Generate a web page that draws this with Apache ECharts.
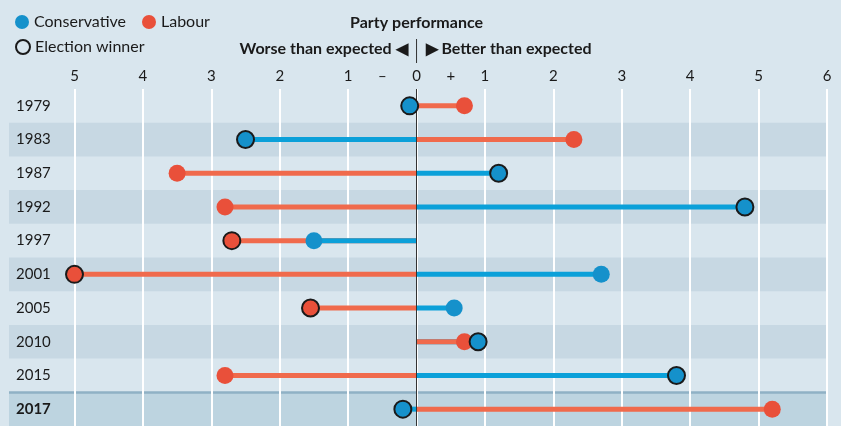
<!DOCTYPE html>
<html lang="en">
<head>
    <meta charset="UTF-8">
    <title>Party performance</title>
    <script type="text/javascript" src="https://cdn.jsdelivr.net/npm/echarts@6/dist/echarts.min.js"></script>
    <style>
      html, body { margin: 0; padding: 0; background: #d9e6ee; }
      #chart { width: 841px; height: 426px; }
    </style>
</head>
<body>
  <div id="chart"></div>

<script type="text/javascript">

  // data
  var years = ['1979', '1983', '1987', '1992', '1997', '2001', '2005', '2010', '2015', '2017'];
  var conservative = [-0.1, -2.5, 1.2, 4.8, -1.5, 2.7, 0.55, 0.9, 3.8, -0.2];
  var labour = [0.7, 2.3, -3.5, -2.8, -2.7, -5.0, -1.55, 0.7, -2.8, 5.2];
  var winner = ['Con', 'Con', 'Con', 'Con', 'Lab', 'Lab', 'Lab', 'Con', 'Con', 'Con'];
  var shadedRows = [1, 3, 5, 7, 9];

  // top axis: tick values and the labels shown at them
  var xTickValues = [-5, -4, -3, -2, -1, -0.5, 0, 0.5, 1, 2, 3, 4, 5, 6];
  var xTickLabels = ['5', '4', '3', '2', '1', '–', '0', '+', '1', '2', '3', '4', '5', '6'];

  var FONT = 'Lato';
  var BLUE_DOT = '#1591cb', BLUE_LINE = '#0ba0d9';
  var RED_DOT = '#e9503a', RED_LINE = '#f06a4c';
  var INK = '#1a1a1a';

  var chart = echarts.init(document.getElementById('chart'));

  // dots, with a black ring on the winner
  function dots(values, party) {
    var out = [];
    for (var i = 0; i < values.length; i++) {
      var w = winner[i] === party;
      out.push({
        value: [values[i], i],
        itemStyle: { borderColor: INK, borderWidth: w ? 2 : 0 }
      });
    }
    return out;
  }

  var lineData = [];
  for (var i = 0; i < years.length; i++) {
    lineData.push([conservative[i], labour[i], i]);
  }

  var bandData = [];
  for (var j = 0; j < shadedRows.length; j++) {
    bandData.push([6, shadedRows[j]]);
  }

  var option = {
    backgroundColor: '#d9e6ee',
    animation: false,
    textStyle: { fontFamily: FONT },
    legend: [{
      left: 10, top: 9,
      itemWidth: 14, itemHeight: 14, itemGap: 16,
      selectedMode: false,
      icon: 'circle',
      data: ['Conservative', 'Labour'],
      textStyle: { fontFamily: FONT, fontSize: 16, color: INK }
    }, {
      left: 10, top: 34,
      itemWidth: 14, itemHeight: 14,
      selectedMode: false,
      icon: 'circle',
      data: ['Election winner'],
      textStyle: { fontFamily: FONT, fontSize: 16, color: INK }
    }],
    grid: { left: 74.5, right: 14, top: 89, height: 338 },
    xAxis: {
      type: 'value',
      position: 'top',
      min: -5, max: 6, interval: 0.5,
      axisLine: { show: false },
      axisTick: { show: false },
      axisLabel: {
        margin: 5,
        fontFamily: FONT, fontSize: 15, color: INK,
        formatter: function (v) {
          var k = xTickValues.indexOf(v);
          return k >= 0 ? xTickLabels[k] : '';
        }
      },
      splitLine: { show: true, lineStyle: { color: ['#ffffff', 'rgba(0,0,0,0)'], width: 2 } }
    },
    yAxis: {
      type: 'category',
      inverse: true,
      data: years,
      axisLine: { show: false },
      axisTick: { show: false },
      splitLine: { show: false },
      axisLabel: {
        align: 'left',
        margin: 58.5,
        fontFamily: FONT, fontSize: 15, color: INK,
        formatter: function (v) {
          return v === '2017' ? '{b|' + v + '}' : v;
        },
        rich: { b: { fontFamily: FONT, fontSize: 15, fontWeight: 'bold', color: INK } }
      }
    },
    series: [{
      // row shading
      type: 'custom',
      z: -1,
      silent: true,
      clip: false,
      encode: { x: 0, y: 1 },
      data: bandData,
      renderItem: function (params, api) {
        var row = api.value(1);
        var c = api.coord([api.value(0), row]);
        var h = api.size([0, 1])[1];
        var x0 = 9;
        var last = row === years.length - 1;
        var kids = [{
          type: 'rect',
          shape: { x: x0, y: c[1] - h / 2, width: c[0] - x0, height: h },
          style: { fill: last ? '#bdd4e0' : '#c7d8e3' }
        }];
        if (last) {
          kids.push({
            type: 'rect',
            shape: { x: x0, y: c[1] - h / 2 - 1, width: c[0] - x0, height: 2.5 },
            style: { fill: '#8fb1c5' }
          });
        }
        return { type: 'group', children: kids };
      }
    }, {
      // stems from zero, longest drawn first
      type: 'custom',
      z: 2,
      silent: true,
      encode: { x: [0, 1], y: 2 },
      data: lineData,
      renderItem: function (params, api) {
        var row = api.value(2);
        var con = api.value(0), lab = api.value(1);
        var p0 = api.coord([0, row]);
        var pc = api.coord([con, row]);
        var pl = api.coord([lab, row]);
        var segC = {
          type: 'line',
          shape: { x1: p0[0], y1: p0[1], x2: pc[0], y2: pc[1] },
          style: { stroke: BLUE_LINE, lineWidth: 5 }
        };
        var segL = {
          type: 'line',
          shape: { x1: p0[0], y1: p0[1], x2: pl[0], y2: pl[1] },
          style: { stroke: RED_LINE, lineWidth: 5 }
        };
        var kids = Math.abs(con) > Math.abs(lab) ? [segC, segL] : [segL, segC];
        return { type: 'group', children: kids };
      }
    }, {
      // zero line
      type: 'line',
      z: 3,
      data: [],
      markLine: {
        silent: true,
        symbol: 'none',
        label: { show: false },
        lineStyle: { color: '#333333', width: 1, type: 'solid' },
        data: [{ xAxis: 0 }]
      }
    }, {
      name: 'Labour',
      type: 'scatter',
      z: 4,
      symbolSize: 17,
      itemStyle: { color: RED_DOT, opacity: 1 },
      data: dots(labour, 'Lab')
    }, {
      name: 'Conservative',
      type: 'scatter',
      z: 5,
      symbolSize: 17,
      itemStyle: { color: BLUE_DOT, opacity: 1 },
      data: dots(conservative, 'Con')
    }, {
      name: 'Election winner',
      type: 'scatter',
      data: [],
      itemStyle: { color: '#d9e6ee', borderColor: INK, borderWidth: 2, opacity: 1 }
    }]
  };

  chart.setOption(option);

  // header centred on the zero line
  var zx = chart.convertToPixel({ xAxisIndex: 0 }, 0);
  chart.setOption({
    graphic: [{
      type: 'text', x: zx, y: 23,
      style: { text: 'Party performance', fontFamily: FONT, fontSize: 16, fontWeight: 'bold',
               fill: INK, align: 'center', verticalAlign: 'middle' }
    }, {
      type: 'text', x: zx - 9, y: 49,
      style: { text: 'Worse than expected ◀', fontFamily: FONT, fontSize: 16, fontWeight: 'bold',
               fill: INK, align: 'right', verticalAlign: 'middle' }
    }, {
      type: 'text', x: zx + 9, y: 49,
      style: { text: '▶ Better than expected', fontFamily: FONT, fontSize: 16, fontWeight: 'bold',
               fill: INK, align: 'left', verticalAlign: 'middle' }
    }, {
      type: 'line',
      shape: { x1: zx, y1: 39, x2: zx, y2: 63 },
      style: { stroke: '#333333', lineWidth: 1 }
    }]
  });

</script>
</body>
</html>
